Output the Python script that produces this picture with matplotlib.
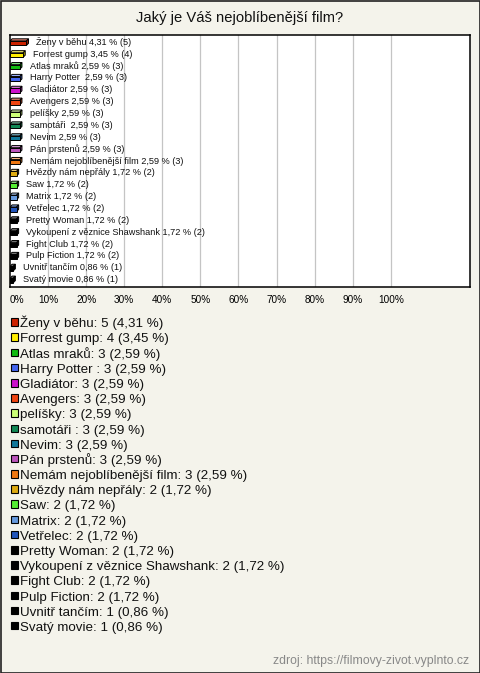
import matplotlib
matplotlib.use("Agg")
import matplotlib.pyplot as plt
from matplotlib.patches import Polygon, Rectangle
from matplotlib.colors import to_rgb

# data
names = ["Ženy v běhu", "Forrest gump", "Atlas mraků", "Harry Potter ", "Gladiátor",
         "Avengers", "pelíšky", "samotáři ", "Nevim", "Pán prstenů",
         "Nemám nejoblíbenější film", "Hvězdy nám nepřály", "Saw", "Matrix", "Vetřelec",
         "Pretty Woman", "Vykoupení z věznice Shawshank", "Fight Club", "Pulp Fiction",
         "Uvnitř tančím", "Svatý movie"]
counts = [5, 4, 3, 3, 3, 3, 3, 3, 3, 3, 3, 2, 2, 2, 2, 2, 2, 2, 2, 1, 1]
percents = [4.31, 3.45, 2.59, 2.59, 2.59, 2.59, 2.59, 2.59, 2.59, 2.59, 2.59,
            1.72, 1.72, 1.72, 1.72, 1.72, 1.72, 1.72, 1.72, 0.86, 0.86]
colors = ["#cc2200", "#ffee00", "#11bb11", "#4466ee", "#cc11cc", "#ee4411", "#ccff77",
          "#118855", "#117799", "#bb55bb", "#ee7711", "#ddaa11", "#55ee33", "#6699dd",
          "#2255bb", "#000000", "#000000", "#000000", "#000000", "#000000", "#000000"]
ticks = [0, 10, 20, 30, 40, 50, 60, 70, 80, 90, 100]
title = "Jaký je Váš nejoblíbenější film?"
source = "zdroj: https://filmovy-zivot.vyplnto.cz"

W, H = 480, 673
bgcol = "#f4f3eb"
plt.rcParams['font.family'] = ['Liberation Sans', 'DejaVu Sans']

fig = plt.figure(figsize=(W / 100, H / 100), dpi=100, facecolor=bgcol)

# overlay in pixel coordinates for title, legend, source and border
bg = fig.add_axes([0, 0, 1, 1], zorder=0)
bg.set_xlim(0, W)
bg.set_ylim(H, 0)
bg.axis('off')
bg.patch.set_alpha(0)
bg.add_patch(Rectangle((0.5, 0.5), W - 1, H - 1, fill=False, edgecolor="#222222", lw=1.2))

# main chart area
ax = fig.add_axes([10 / W, (H - 287) / H, 460 / W, 252 / H], zorder=1)
ax.set_facecolor("white")
n = len(names)
ax.set_xlim(0, 120.8)
ax.set_ylim(n - 1 + 0.62, -0.62)
ax.set_xticks(ticks)
ax.set_xticklabels([f"{t}%" for t in ticks], fontsize=7.2)
ax.get_xticklabels()[0].set_ha('left')
ax.set_yticks([])
ax.tick_params(axis='x', length=0, pad=6)
for t in ticks[1:]:
    ax.axvline(t, color="#c4c4c4", lw=0.9, zorder=0)
for s in ax.spines.values():
    s.set_linewidth(1.1)
    s.set_color("black")


def shade(c, f):
    r, g, b = to_rgb(c)
    if f > 1:
        return tuple(x + (1 - x) * (f - 1) for x in (r, g, b))
    return tuple(x * f for x in (r, g, b))


dx, dy = 0.55, 0.18
for i, (v, c) in enumerate(zip(percents, colors)):
    top = i - 0.12
    bot = i + 0.26
    ax.add_patch(Polygon([(0, top), (v, top), (v + dx, top - dy), (dx, top - dy)],
                         closed=True, facecolor=shade(c, 1.45), edgecolor="black", lw=0.7, zorder=3))
    ax.add_patch(Polygon([(v, top), (v + dx, top - dy), (v + dx, bot - dy), (v, bot)],
                         closed=True, facecolor=shade(c, 0.7), edgecolor="black", lw=0.7, zorder=3))
    ax.add_patch(Rectangle((0, top), v, bot - top, facecolor=c, edgecolor="black", lw=0.7, zorder=4))
    pct = f"{v:.2f}".replace('.', ',')
    ax.text(v + 2.6, i, f"{names[i]} {pct} % ({counts[i]})", fontsize=6.6,
            va='center', ha='left', color="#111111", zorder=5)

bg.text(240, 18, title, fontsize=10.6, ha='center', va='center', color="#111111")

# legend below the chart
for i, (name, cnt, p, c) in enumerate(zip(names, counts, percents, colors)):
    base = 327.3 + i * 15.18
    bg.add_patch(Rectangle((10.5, base - 9), 7.5, 7.5, facecolor=c, edgecolor="black", lw=0.8))
    pct = f"{p:.2f}".replace('.', ',')
    bg.text(20, base, f"{name}: {cnt} ({pct} %)", fontsize=9.6, ha='left', va='baseline', color="#111111")

bg.text(469, 661, source, fontsize=8.8, ha='right', va='center', color="#888888")

fig.savefig("out.png", dpi=100, facecolor=bgcol)
